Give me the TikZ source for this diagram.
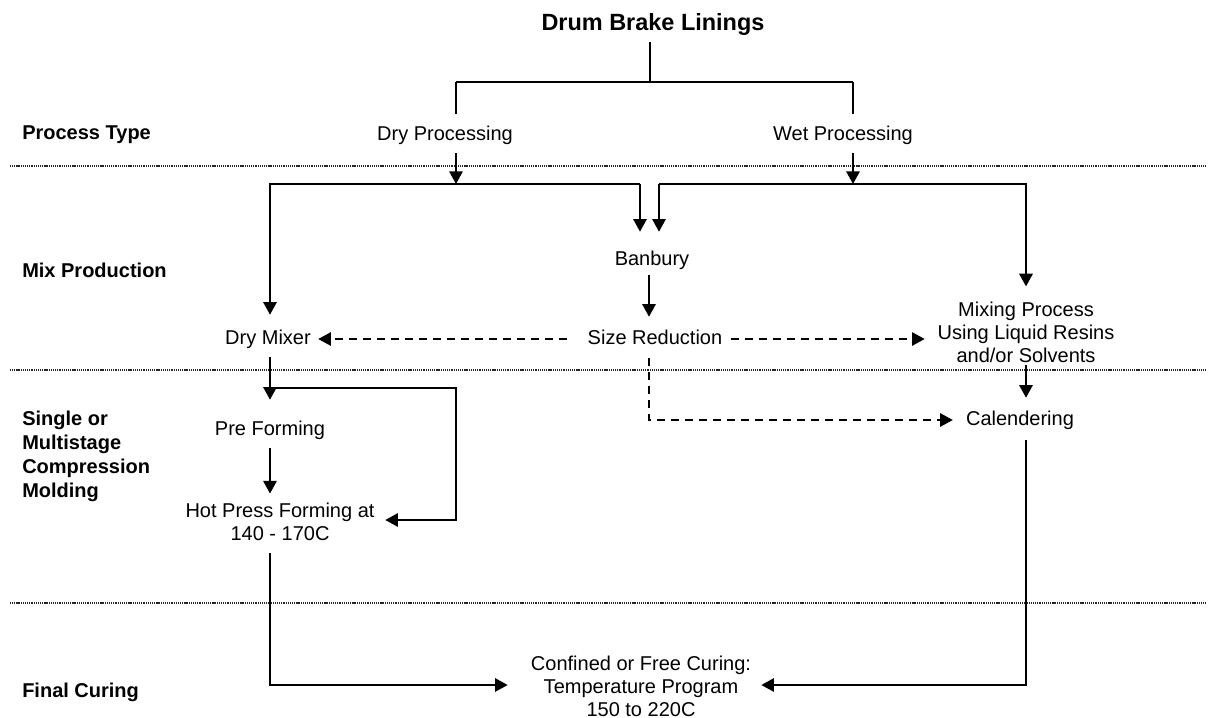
\documentclass[tikz,border=0pt]{standalone}
\usepackage{fontspec}
\setmainfont{Liberation Sans}
\usetikzlibrary{arrows.meta}
\begin{document}
\begin{tikzpicture}[x=0.75pt,y=-0.75pt,
  ln/.style={line width=1.5pt},
  arr/.style={ln,-{Triangle[width=10pt,length=9.5pt]}},
  darr/.style={arr,line width=1.25pt,dash pattern=on 6pt off 4.5pt},
  sep/.style={line width=1.1pt,black!85,dash pattern=on 0.8pt off 0.6pt},
  txt/.style={font=\fontsize{15}{17.25}\selectfont,inner sep=0pt,align=center},
  one/.style={txt,text height=11pt,text depth=3.2pt},
  head/.style={font=\fontsize{15}{18}\selectfont\bfseries,inner sep=0pt,anchor=west,align=left},
  ttl/.style={font=\fontsize{17.6}{20}\selectfont\bfseries,inner sep=0pt,text height=12.8pt,text depth=3.8pt}]
\useasboundingbox (0,0) rectangle (1215,718);

% separators
\draw[sep] (10,166) -- (1205,166);
\draw[sep] (10,370) -- (1205,370);
\draw[sep] (10,603) -- (1205,603);

% headings
\node[head] (h1) at (22,135) {Process Type};
\node[head] (h2) at (22,270) {Mix Production};
\node[head] (h3) at (22,456) {Single or\\Multistage\\Compression\\Molding};
\node[head] (h4) at (22,692) {Final Curing};

% nodes
\node[ttl] (title) at (653,24.4) {Drum Brake Linings};
\node[one] (dryp) at (445,135) {Dry Processing};
\node[one] (wetp) at (843,135) {Wet Processing};
\node[one] (banbury) at (652,260) {Banbury};
\node[one] (drymixer) at (268,339) {Dry Mixer};
\node[one] (sizered) at (655,339) {Size Reduction};
\node[txt] (mixing) at (1026,332) {Mixing Process\\Using Liquid Resins\\and/or Solvents};
\node[one] (preform) at (270,430) {Pre Forming};
\node[txt] (hotpress) at (280,522) {Hot Press Forming at\\140 - 170C};
\node[one] (calender) at (1020,420) {Calendering};
\node[txt] (curing) at (641,686) {Confined or Free Curing:\\Temperature Program\\150 to 220C};

% junction coordinates
\coordinate (bt) at (650,82);
\coordinate (bl) at (456,82);
\coordinate (br) at (853,82);
\coordinate (hl) at (456,184);
\coordinate (hr) at (853,184);
\coordinate (jL) at (270,184);
\coordinate (jC1) at (640,184);
\coordinate (jC2) at (659,184);
\coordinate (jR) at (1026,184);
\coordinate (cx) at (649,184);
\coordinate (jP) at (270,388);
\coordinate (jQ) at (456,388);
\coordinate (jQ2) at (456,520);
\coordinate (cL) at (270,685);
\coordinate (cR) at (1026,685);

% title bracket
\draw[ln, shorten <=5pt] (title.south -| bt) -- (bt);
\draw[ln] (bl) -- (br);
\draw[ln, shorten >=8.6pt] (bl) -- (dryp.north -| bl);
\draw[ln, shorten >=8.6pt] (br) -- (wetp.north -| br);

% process type to mix production
\draw[arr, shorten <=6.4pt] (dryp.south -| hl) -- (hl);
\draw[arr, shorten <=6.4pt] (wetp.south -| hr) -- (hr);
\draw[arr, shorten >=10.9pt] (jC1) -- (jL) -- (drymixer.north -| jL);
\draw[arr, shorten >=13.9pt] (jC1) -- (banbury.north -| jC1);
\draw[arr, shorten >=13.9pt] (jC2) -- (banbury.north -| jC2);
\draw[arr, shorten >=11.25pt] (jC2) -- (jR) -- (mixing.north -| jR);
\draw[arr, shorten <=4.1pt, shorten >=9.4pt] (banbury.south -| cx) -- (sizered.north -| cx);

% dashed
\draw[darr, shorten <=15.6pt, shorten >=5.4pt] (sizered.west) -- (drymixer.east);
\draw[darr, shorten <=6pt, shorten >=9.5pt] (sizered.east) -- (mixing.west |- sizered.east);
\draw[darr, shorten <=7.1pt, shorten >=9.75pt] (sizered.south -| cx) -- (cx |- calender.west) -- (calender.west);

% molding
\draw[arr, shorten <=6.4pt, shorten >=15.4pt] (drymixer.south -| jP) -- (preform.north -| jP);
\draw[arr, shorten >=7.9pt] (jP) -- (jQ) -- (jQ2) -- (hotpress.east |- jQ2);
\draw[arr, shorten <=6.4pt, shorten >=7pt] (preform.south -| jP) -- (hotpress.north -| jP);
\draw[arr, shorten <=2pt, shorten >=9.4pt] (mixing.south -| jR) -- (calender.north -| jR);

% curing
\draw[arr, shorten <=9.2pt, shorten >=17.25pt] (hotpress.south -| cL) -- (cL) -- (curing.west |- cL);
\draw[arr, shorten <=7.9pt, shorten >=7.5pt] (calender.south -| cR) -- (cR) -- (curing.east |- cR);
\end{tikzpicture}
\end{document}
